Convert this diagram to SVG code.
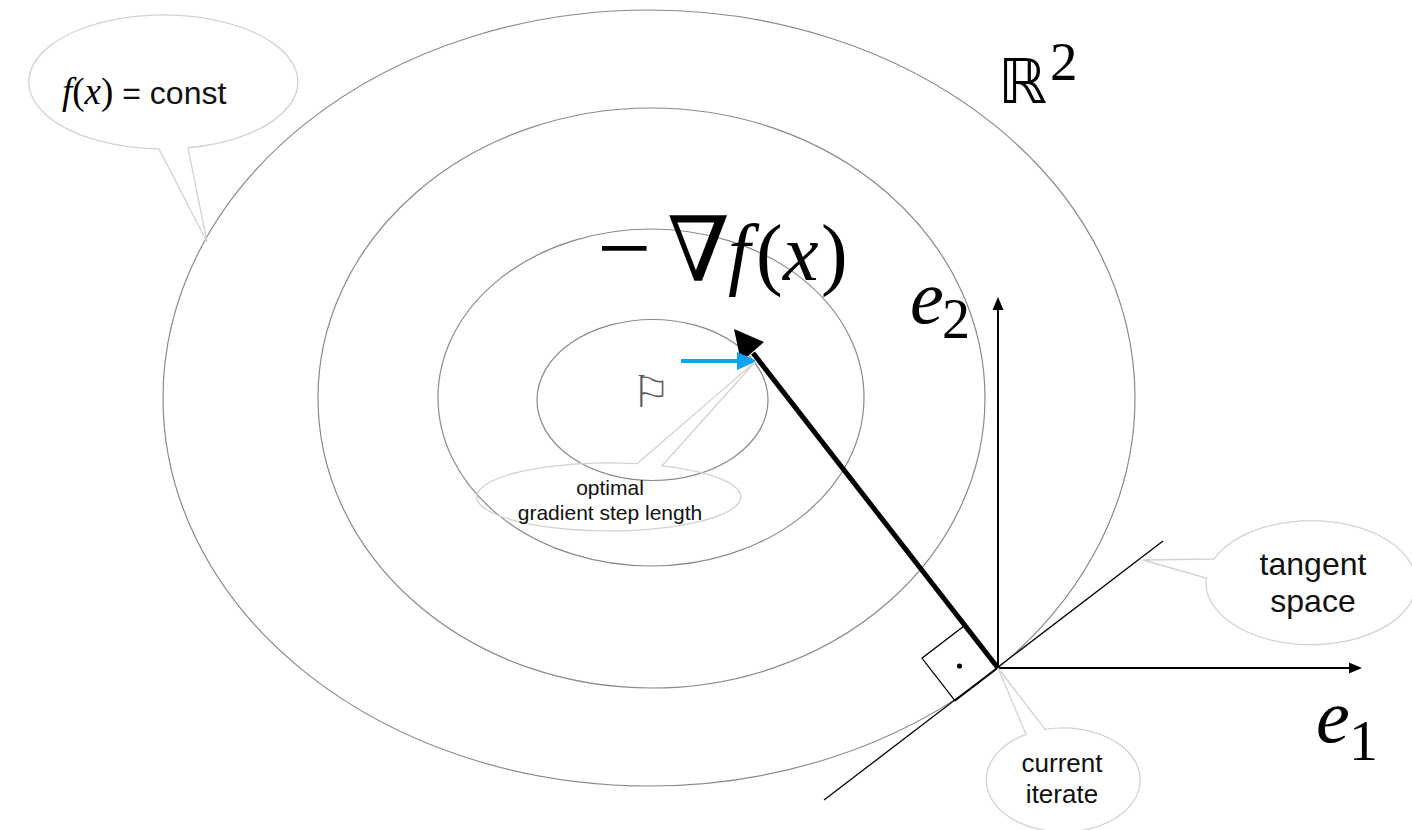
<svg xmlns="http://www.w3.org/2000/svg" width="1412" height="830" viewBox="0 0 1412 830">
<style>
.contour{fill:none;stroke:#8a8a8a;stroke-width:1.2}
.bubble{fill:none;stroke:#d2d2d2;stroke-width:1.3}
.serif{font-family:"Liberation Serif","DejaVu Serif",serif;fill:#000}
.it{font-style:italic}
.sans{font-family:"Liberation Sans",Arial,sans-serif;fill:#111}
</style>
<rect width="1412" height="830" fill="#fff"/>
<g id="contours">
<ellipse class="contour" cx="649" cy="398" rx="486" ry="388"/>
<ellipse class="contour" cx="651.5" cy="398" rx="333.5" ry="290"/>
<ellipse class="contour" cx="651" cy="397.5" rx="213" ry="168.5"/>
<ellipse class="contour" cx="652.5" cy="400" rx="115.5" ry="80.5"/>
</g>
<g id="minimum">
<text x="651" y="407" font-family="DejaVu Sans,sans-serif" font-size="44" fill="#5a5a5a" text-anchor="middle">⚐</text>
</g>
<g id="connectors">
<line x1="824" y1="800" x2="1163" y2="541" stroke="#000" stroke-width="1.3"/>
<line x1="998" y1="668" x2="998" y2="309" stroke="#000" stroke-width="2"/>
<polygon points="998,297 1003.5,310 992.5,310" fill="#000"/>
<line x1="998" y1="668" x2="1350" y2="668" stroke="#000" stroke-width="2"/>
<polygon points="1362,668 1349,662.5 1349,673.5" fill="#000"/>
<polygon points="998,668 964.8,625.4 921.9,658.2 955.1,700.8" fill="none" stroke="#000" stroke-width="1.2"/>
<circle cx="959.5" cy="666" r="2.6" fill="#000"/>
<line x1="998" y1="668" x2="753" y2="353" stroke="#000" stroke-width="5"/>
<polygon points="734,329 764,342 741,362" fill="#000"/>
<line x1="681" y1="361" x2="740" y2="361" stroke="#0ea2f2" stroke-width="4"/>
<polygon points="757,361 737,352 737,370" fill="#0ea2f2"/>
</g>
<g id="label-grad">
<text class="serif" x="597" y="280" font-size="96">−</text>
<text class="serif" x="667" y="281" font-size="90">∇</text>
<text class="serif it" x="728" y="280" font-size="80">f</text>
<text class="serif" x="756" y="280" font-size="80">(</text>
<text class="serif it" x="783" y="280" font-size="80">x</text>
<text class="serif" x="821" y="280" font-size="80">)</text>
</g>
<g id="label-R2">
<text x="998" y="103" font-family="DejaVu Sans,sans-serif" font-size="62" fill="#000">ℝ</text>
<text class="serif" x="1050" y="80" font-size="55">2</text>
</g>
<g id="label-e2">
<text class="serif it" x="910" y="323" font-size="76">e</text>
<text class="serif" x="942" y="338" font-size="56">2</text>
</g>
<g id="label-e1">
<text class="serif it" x="1316" y="742" font-size="76">e</text>
<text class="serif" x="1349" y="760" font-size="58">1</text>
</g>
<g id="bubble-const">
<path class="bubble" d="M159,148.9 L207,242 L188,147.8 A134.5,67 0 1 0 159,148.9 Z"/>
<text x="62" y="104" font-size="32"><tspan class="serif it" font-size="37">f</tspan><tspan class="serif" font-size="37">(</tspan><tspan class="serif it" font-size="37">x</tspan><tspan class="serif" font-size="37">)</tspan><tspan class="sans"> = const</tspan></text>
</g>
<g id="bubble-optimal">
<path class="bubble" d="M637,463.7 L756,361 L662,465.8 A132,34 0 1 1 637,463.7 Z"/>
<text class="sans" x="610" y="495" font-size="21" text-anchor="middle">optimal</text>
<text class="sans" x="610" y="520" font-size="21" text-anchor="middle">gradient step length</text>
</g>
<g id="bubble-tangent">
<path class="bubble" d="M1214,559 L1143,560 L1206.3,578 A105,62 0 1 0 1214,559 Z"/>
<text class="sans" x="1313" y="575" font-size="32" text-anchor="middle">tangent</text>
<text class="sans" x="1313" y="612" font-size="32" text-anchor="middle">space</text>
</g>
<g id="bubble-current">
<path class="bubble" d="M1026,734.4 L998,668 L1045,729.4 A77,52 0 1 1 1026,734.4 Z"/>
<text class="sans" x="1062" y="772" font-size="26" text-anchor="middle">current</text>
<text class="sans" x="1062" y="803" font-size="26" text-anchor="middle">iterate</text>
</g>
</svg>
